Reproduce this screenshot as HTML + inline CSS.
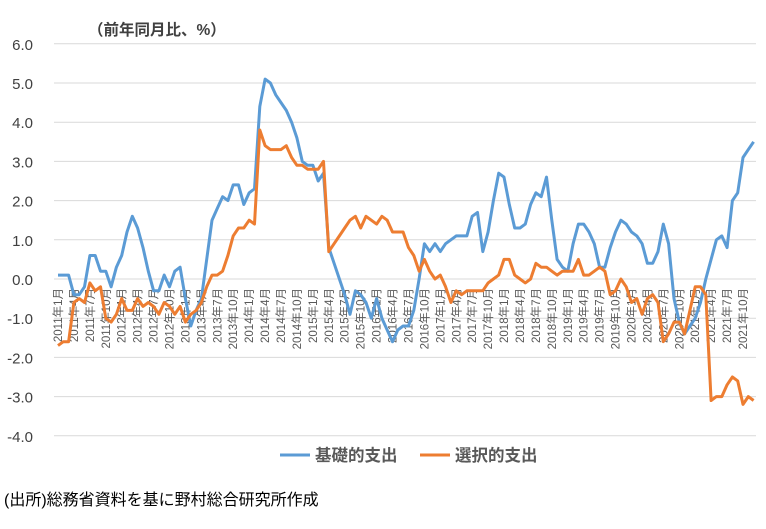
<!DOCTYPE html>
<html><head><meta charset="utf-8"><style>
html,body{margin:0;padding:0;background:#fff;}
svg text{font-family:"Liberation Sans","Noto Sans CJK JP",sans-serif;}
</style></head><body>
<svg id="c" width="766" height="524" viewBox="0 0 766 524" xmlns="http://www.w3.org/2000/svg"></svg>
<script>
const s=document.getElementById('c');
const NS='http://www.w3.org/2000/svg';
function el(t,a,txt){const e=document.createElementNS(NS,t);for(const k in a)e.setAttribute(k,a[k]);if(txt!==undefined)e.textContent=txt;s.appendChild(e);return e;}
const y0=279, py=39.2, x0=58, px=5.31;
const Y=v=>y0-v*py, X=i=>x0+i*px;
for(let v=6;v>=-4;v--){
  el('line',{x1:54,x2:756,y1:Y(v),y2:Y(v),stroke:'#d9d9d9','stroke-width':1});
  el('text',{x:33,y:Y(v)+6,'text-anchor':'end','font-size':15,fill:'#404040'},v.toFixed(1));
}
el('text',{x:88,y:35,'font-size':15.5,'font-weight':'bold',fill:'#404040'},'（前年同月比、%）');
for(let i=0;i<132;i+=3){
  const yr=2011+Math.floor(i/12), m=i%12+1;
  el('text',{transform:`translate(${X(i)+4},288) rotate(-90)`,'text-anchor':'end','font-size':11.5,fill:'#595959'},yr+'年'+m+'月');
}
const blue=[0.1,0.1,0.1,-0.4,-0.4,-0.2,0.6,0.6,0.2,0.2,-0.2,0.3,
0.6,1.2,1.6,1.3,0.8,0.2,-0.3,-0.3,0.1,-0.2,0.2,0.3,
-0.5,-1.2,-0.8,-0.5,0.5,1.5,1.8,2.1,2.0,2.4,2.4,1.9,
2.2,2.3,4.4,5.1,5.0,4.7,4.5,4.3,4.0,3.6,3.0,2.9,
2.9,2.5,2.7,0.8,0.4,0.0,-0.4,-0.9,-0.3,-0.4,-0.6,-1.0,
-0.5,-1.0,-1.3,-1.6,-1.3,-1.2,-1.2,-0.8,0.0,0.9,0.7,0.9,
0.7,0.9,1.0,1.1,1.1,1.1,1.6,1.7,0.7,1.2,2.0,2.7,
2.6,1.9,1.3,1.3,1.4,1.9,2.2,2.1,2.6,1.5,0.5,0.3,
0.2,0.9,1.4,1.4,1.2,0.9,0.3,0.3,0.8,1.2,1.5,1.4,
1.2,1.1,0.9,0.4,0.4,0.7,1.4,0.9,-0.5,-1.1,-1.4,-1.2,
-1.0,-0.6,0.0,0.5,1.0,1.1,0.8,2.0,2.2,3.1,3.3,3.5];
const orange=[-1.7,-1.6,-1.6,-0.6,-0.5,-0.6,-0.1,-0.3,-0.2,-1.0,-1.1,-0.9,
-0.5,-0.8,-0.8,-0.5,-0.7,-0.6,-0.7,-0.9,-0.6,-0.7,-0.9,-0.7,
-1.1,-0.9,-0.8,-0.6,-0.2,0.1,0.1,0.2,0.6,1.1,1.3,1.3,
1.5,1.4,3.8,3.4,3.3,3.3,3.3,3.4,3.1,2.9,2.9,2.8,
2.8,2.8,3.0,0.7,0.9,1.1,1.3,1.5,1.6,1.3,1.6,1.5,
1.4,1.6,1.5,1.2,1.2,1.2,0.8,0.6,0.2,0.5,0.2,0.0,
0.1,-0.2,-0.6,-0.3,-0.4,-0.3,-0.3,-0.3,-0.3,-0.1,0.0,0.1,
0.5,0.5,0.1,0.0,-0.1,0.0,0.4,0.3,0.3,0.2,0.1,0.2,
0.2,0.2,0.5,0.1,0.1,0.2,0.3,0.2,-0.4,-0.3,0.0,-0.2,
-0.6,-0.5,-0.9,-0.5,-0.4,-0.6,-1.6,-1.4,-1.1,-1.1,-1.4,-0.8,
-0.2,-0.2,-0.4,-3.1,-3.0,-3.0,-2.7,-2.5,-2.6,-3.2,-3.0,-3.1];
const pts=a=>a.map((v,i)=>X(i).toFixed(1)+','+Y(v).toFixed(1)).join(' ');
el('polyline',{points:pts(blue),fill:'none',stroke:'#5b9bd5','stroke-width':3,'stroke-linejoin':'round'});
el('polyline',{points:pts(orange),fill:'none',stroke:'#ed7d31','stroke-width':3,'stroke-linejoin':'round'});
el('line',{x1:280,x2:310,y1:455,y2:455,stroke:'#5b9bd5','stroke-width':3});
el('text',{x:315,y:461,'font-size':16.5,'font-weight':'bold',fill:'#595959'},'基礎的支出');
el('line',{x1:420,x2:450,y1:455,y2:455,stroke:'#ed7d31','stroke-width':3});
el('text',{x:455,y:461,'font-size':16.5,'font-weight':'bold',fill:'#595959'},'選択的支出');
el('text',{x:4,y:505,'font-size':16,fill:'#000'},'(出所)総務省資料を基に野村総合研究所作成');
</script>
</body></html>
